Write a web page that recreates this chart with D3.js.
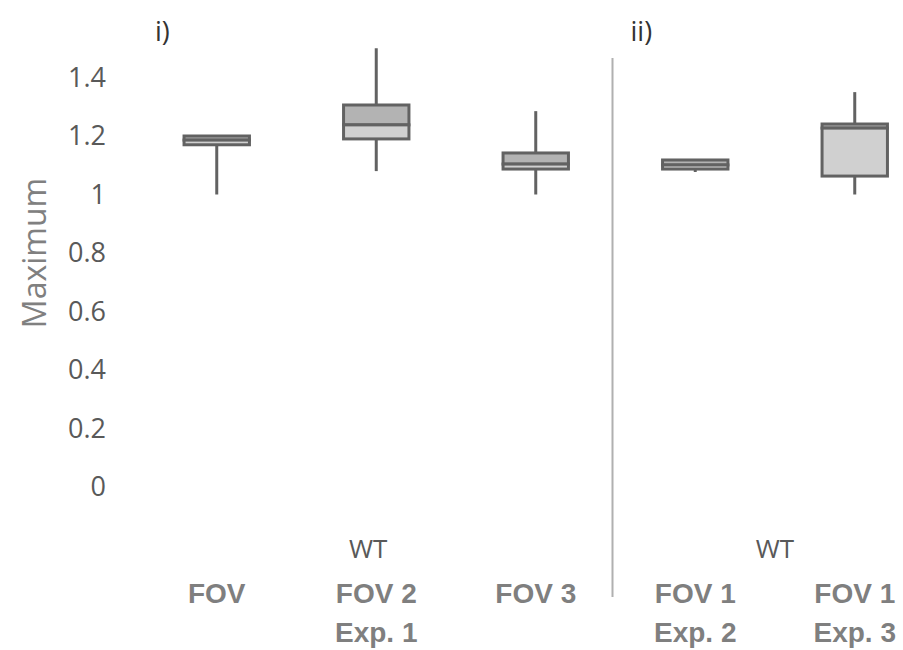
<!DOCTYPE html>
<html>
<head>
<meta charset="utf-8">
<script src="https://cdn.jsdelivr.net/npm/d3@7"></script>
<style>
  body { margin: 0; background: #fff; }
  svg { display: block; }
</style>
</head>
<body>
<svg id="chart"></svg>
<script>
// one entry per box, left to right
const groups = ["Exp1 FOV1", "Exp1 FOV2", "Exp1 FOV3", "Exp2 FOV1", "Exp3 FOV1"];
const labelTop = ["FOV", "FOV 2", "FOV 3", "FOV 1", "FOV 1"];
const labelBottom = ["", "Exp. 1", "", "Exp. 2", "Exp. 3"];

const mins    = [1.0,   1.08,  1.0,   1.077, 1.0];
const q1s     = [1.17,  1.19,  1.087, 1.087, 1.063];
const medians = [1.186, 1.238, 1.104, 1.101, 1.227];
const q3s     = [1.2,   1.306, 1.142, 1.118, 1.241];
const maxs    = [1.2,   1.5,   1.285, 1.118, 1.35];

const yTicks = [0, 0.2, 0.4, 0.6, 0.8, 1, 1.2, 1.4];

const panelNames = ["i)", "ii)"];
const panelStart = [0, 3];   // index of first group in each panel
const panelEnd = [2, 4];
const panelGroupLabel = ["WT", "WT"];

const W = 903, H = 650;
const svg = d3.select("#chart").attr("width", W).attr("height", H);

const x = d3.scaleBand()
    .domain(groups)
    .range([137, 934.5])
    .padding(0);

const y = d3.scaleLinear()
    .domain([0, 1.4])
    .range([487, 77.5]);

const boxW = x.bandwidth() * 0.41;
const cx = (g) => x(g) + x.bandwidth() / 2;

// y axis (labels only)
const yAxis = svg.append("g")
    .attr("transform", "translate(106,0)")
    .call(d3.axisLeft(y).tickValues(yTicks).tickSize(0).tickPadding(0)
        .tickFormat(d => String(d)));
yAxis.select(".domain").remove();
yAxis.selectAll("text")
    .attr("font-family", "'Open Sans', sans-serif")
    .attr("font-size", 27)
    .attr("fill", "#595959");

svg.append("text")
    .attr("transform", "translate(46, 253) rotate(-90)")
    .attr("text-anchor", "middle")
    .attr("font-family", "'Open Sans', sans-serif")
    .attr("font-size", 32)
    .attr("fill", "#808080")
    .text("Maximum");

// x axis category labels
const xAxis = svg.append("g")
    .attr("transform", "translate(0,583)")
    .call(d3.axisBottom(x).tickSize(0).tickPadding(0).tickFormat((d, i) => labelTop[i]));
xAxis.select(".domain").remove();
xAxis.selectAll("text")
    .attr("font-family", "'Liberation Sans', Arial, sans-serif")
    .attr("font-weight", "bold")
    .attr("font-size", 28)
    .attr("fill", "#7f7f7f");
xAxis.selectAll(".tick").append("text")
    .attr("y", 59)
    .attr("text-anchor", "middle")
    .attr("font-family", "'Liberation Sans', Arial, sans-serif")
    .attr("font-weight", "bold")
    .attr("font-size", 28)
    .attr("fill", "#7f7f7f")
    .text((d, i) => labelBottom[i]);

// panel separator
svg.append("line")
    .attr("x1", x(groups[3]) - 3).attr("x2", x(groups[3]) - 3)
    .attr("y1", 58).attr("y2", 597)
    .attr("stroke", "#b0b0b0")
    .attr("stroke-width", 2);

// panel titles and group labels
panelNames.forEach((p, k) => {
    const left = x(groups[panelStart[k]]);
    const right = x(groups[panelEnd[k]]) + x.bandwidth();
    svg.append("text")
        .attr("x", left + 18 - (k ? 3 : 0))
        .attr("y", 41)
        .attr("font-family", "'Open Sans', sans-serif")
        .attr("font-size", 27)
        .attr("fill", "#333")
        .text(p);
    svg.append("text")
        .attr("x", k === 0 ? (left + right) / 2 - 8 : (left + right) / 2)
        .attr("y", 558)
        .attr("text-anchor", "middle")
        .attr("font-family", "'Open Sans', sans-serif")
        .attr("font-size", 26)
        .attr("fill", "#595959")
        .text(panelGroupLabel[k]);
});

// box plots
const stroke = "#626262";
const boxes = svg.append("g");
groups.forEach((g, i) => {
    const c = cx(g);
    // whiskers
    boxes.append("line")
        .attr("x1", c).attr("x2", c)
        .attr("y1", y(maxs[i])).attr("y2", y(q3s[i]))
        .attr("stroke", stroke).attr("stroke-width", 3);
    boxes.append("line")
        .attr("x1", c).attr("x2", c)
        .attr("y1", y(q1s[i])).attr("y2", y(mins[i]))
        .attr("stroke", stroke).attr("stroke-width", 3);
    // upper half
    boxes.append("rect")
        .attr("x", c - boxW / 2)
        .attr("y", y(q3s[i]))
        .attr("width", boxW)
        .attr("height", y(medians[i]) - y(q3s[i]))
        .attr("fill", "#b3b3b3")
        .attr("stroke", stroke).attr("stroke-width", 3);
    // lower half
    boxes.append("rect")
        .attr("x", c - boxW / 2)
        .attr("y", y(medians[i]))
        .attr("width", boxW)
        .attr("height", y(q1s[i]) - y(medians[i]))
        .attr("fill", "#d0d0d0")
        .attr("stroke", stroke).attr("stroke-width", 3);
});
</script>
</body>
</html>
